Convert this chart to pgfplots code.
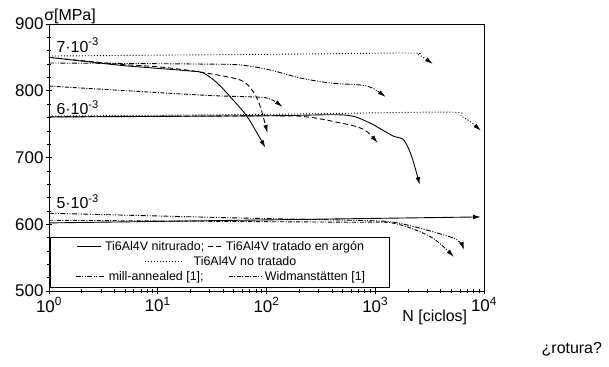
\documentclass[border=0pt]{standalone}
\usepackage{fontspec}
\setmainfont{Liberation Sans}
\usepackage{pgfplots}
\pgfplotsset{compat=1.18}
\usetikzlibrary{arrows.meta}
\newcommand{\lsample}[2]{\tikz[baseline=-0.6ex]\draw[#1, line width=0.8pt] (0,0) -- (#2,0);}
\tikzset{
  argon/.style={dash pattern=on 5pt off 3pt},
  notrat/.style={dash pattern=on 1pt off 2pt},
  mill/.style={dash pattern=on 5pt off 1.5pt on 1pt off 1.5pt on 1pt off 1.5pt},
  widm/.style={dash pattern=on 4pt off 1.5pt on 1pt off 1.5pt},
  arr/.style={-{Latex[length=8pt,width=4.5pt]}},
}
\begin{document}
\begin{tikzpicture}
\begin{axis}[
  scale only axis, width=435bp, height=267bp,
  xmode=log, xmin=1, xmax=10000, ymin=500, ymax=900,
  xtick={1,10,100,1000,10000},
  xticklabels={10\textsuperscript{0},10\textsuperscript{1},10\textsuperscript{2},10\textsuperscript{3},10\textsuperscript{4}},
  ytick={500,600,700,800,900},
  minor y tick num=4,
  xtick pos=bottom, ytick pos=left,
  tick align=center,
  major tick length=6bp, minor tick length=4bp,
  every tick/.style={black, line width=0.6pt},
  axis line style={line width=0.8pt},
  tick label style={font=\fontsize{17}{20}\selectfont},
  yticklabel style={xshift=1bp},
  /pgf/number format/assume math mode=true,
  clip=false,
  every axis plot/.append style={line width=0.9pt, black, smooth, tension=0.5},
]
% ---- 7e-3 group
\addplot[arr] coordinates {(1,850.1) (4.24,838.6) (6.9,835.6) (19.9,829.6) (26.3,826.6) (35.3,811.6) (46.6,790.6) (66.8,760.7) (97.9,714.3)};
\addplot[argon,arr] coordinates {(1,850) (4.24,840) (10.5,835.6) (24.6,828) (57.6,816) (75.9,798) (88.0,775.7) (102,736.7)};
\addplot[notrat,arr] coordinates {(1,852) (205.7,855) (2124,856.6) (2450,854.5) (2742,850.6) (3388,840)};
\addplot[mill,arr] coordinates {(1,841.6) (24.6,840) (57.6,838.6) (108.8,831) (205.7,819) (389,811.6) (735,808.6) (948,804) (1250,790.6)};
\addplot[widm,arr] coordinates {(1,807) (24.6,793.6) (79.2,790.6) (108.8,787.7) (140.4,775.7)};
% ---- 6e-3 group
\addplot[arr] coordinates {(1,760.7) (100,762.5) (513,763.7) (853,753.2) (1124,742.7) (1482,731.7) (1791,727.7) (1995,715.7) (2217,696.3) (2571,658.8)};
\addplot[argon,arr] coordinates {(1,761) (100,762.5) (239,760.7) (481,751.7) (690,745.7) (853,738) (1054,721.7)};
\addplot[notrat,arr] coordinates {(1,762) (150,765) (4656,768) (6140,762) (7595,753) (9380,740)};
% ---- 5e-3 group
\addplot[arr] coordinates {(1,602) (9400,611)};
\addplot[mill,arr] coordinates {(1,616.5) (71.2,609) (594,606) (1482,603) (3767,586.6) (5754,576) (6546,561.4)};
\addplot[widm,arr] coordinates {(1,606) (71.2,604) (594,603) (1482,601.5) (3251,581) (5292,551)};
% ---- annotations
\node[anchor=base west, font=\fontsize{16}{19}\selectfont] at (axis cs:1.09,858) {7·10\textsuperscript{-3}};
\node[anchor=base west, font=\fontsize{16}{19}\selectfont] at (axis cs:1.09,764) {6·10\textsuperscript{-3}};
\node[anchor=base west, font=\fontsize{16}{19}\selectfont] at (axis cs:1.09,623) {5·10\textsuperscript{-3}};
\node[font=\fontsize{16}{19}\selectfont] at (rel axis cs:0.0483,1.030) {σ[MPa]};
\node[font=\fontsize{16}{19}\selectfont] at (rel axis cs:0.887,-0.0974) {N [ciclos]};
\node[font=\fontsize{16}{19}\selectfont] at (rel axis cs:1.202,-0.217) {¿rotura?};
\coordinate (legc) at (rel axis cs:0.394,0.1086);
\coordinate (bl) at (rel axis cs:-0.1126,-0.2846);
\coordinate (tr) at (rel axis cs:1.2874,1.0899);
\end{axis}
\node[draw, line width=0.8pt, fill=white, minimum width=339bp, minimum height=50bp, inner sep=2pt,
  font=\fontsize{12.5}{15}\selectfont, align=center] at (legc)
  {\lsample{}{24bp} Ti6Al4V nitrurado;\ \lsample{argon}{14bp} Ti6Al4V tratado en argón\\
   \lsample{notrat}{36bp}\quad Ti6Al4V no tratado\\
   \lsample{mill}{29bp} mill-annealed [1];\qquad \lsample{widm}{32bp} Widmanstätten [1]};
\path (bl) rectangle (tr);
\end{tikzpicture}
\end{document}
